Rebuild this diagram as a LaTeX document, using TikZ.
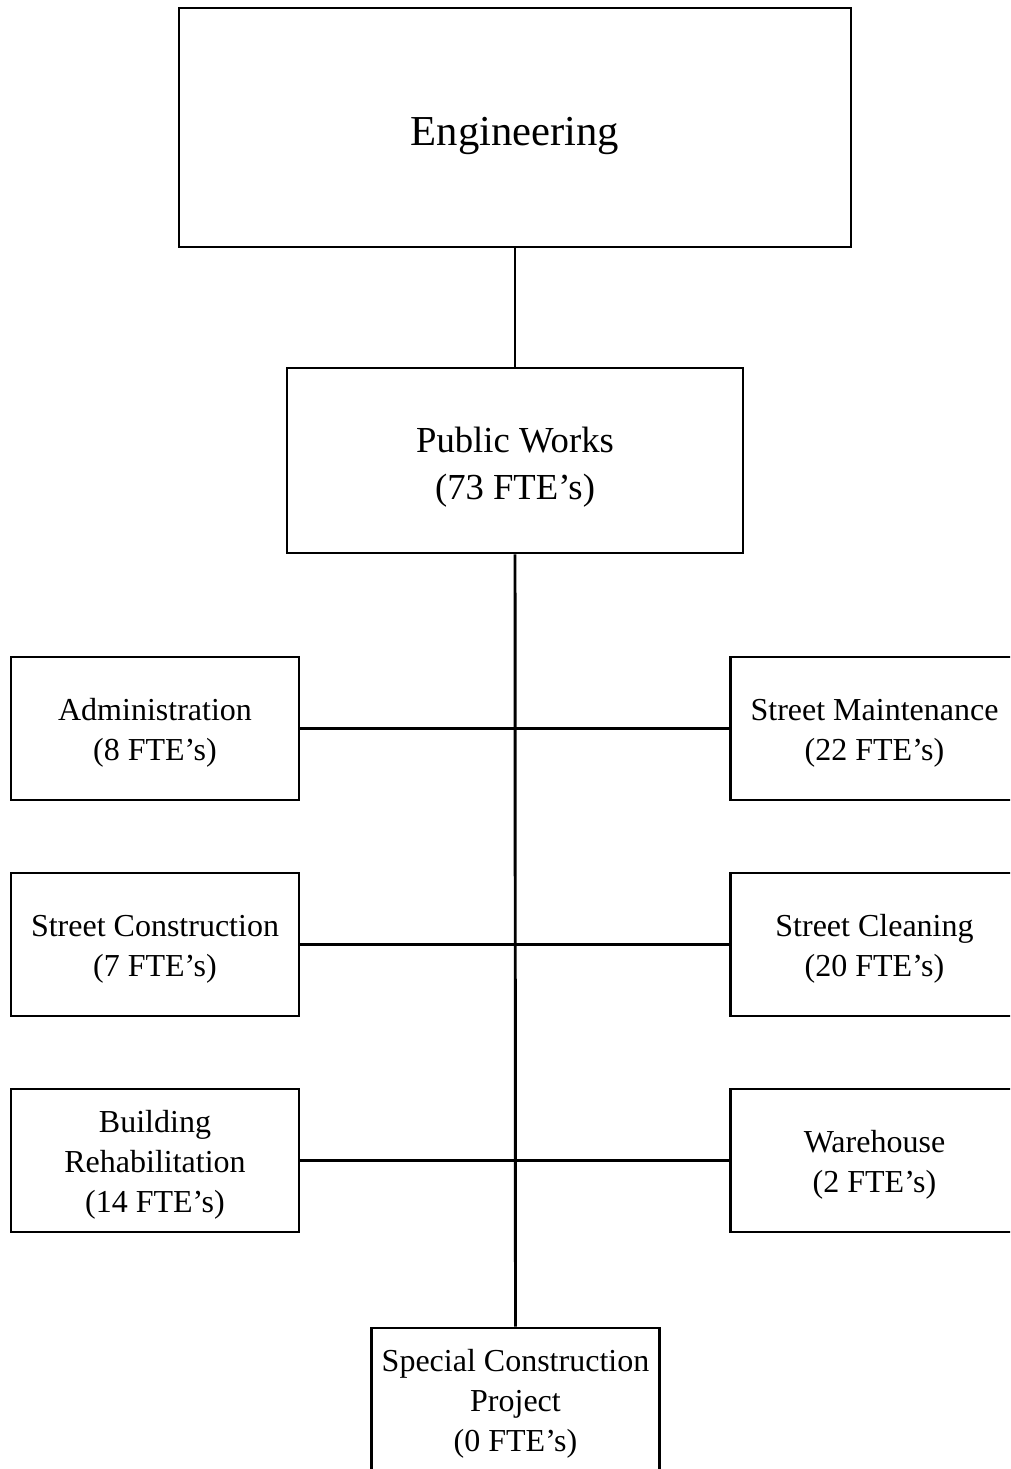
\documentclass[tikz,border=0pt]{standalone}
\usepackage{fontspec}
\setmainfont{Liberation Serif}
\newcommand\liftline[1]{\rule{0pt}{#1}}
\begin{document}
\begin{tikzpicture}[x=0.75pt,y=-0.75pt,
  box/.style={draw=black,line width=2.2pt,fill=white,inner sep=0pt,align=center,rectangle},
  bigbox/.style={box,minimum width=504pt,minimum height=179.25pt,font=\fontsize{32}{38}\selectfont},
  midbox/.style={box,minimum width=342pt,minimum height=138.75pt,font=\fontsize{27.5}{35.5}\selectfont},
  unitbox/.style={box,minimum width=216pt,minimum height=107.25pt,font=\fontsize{24}{30}\selectfont},
  link/.style={line width=2.2pt,draw=black}]
\useasboundingbox (0,0) rectangle (1010,1469);
\clip (0,0) rectangle (1010,1469);
\node[bigbox] (eng) at (515,127.5) {\liftline{34pt}Engineering};
\node[midbox] (pw) at (515,460.5) {\liftline{29.5pt}Public Works\\(73 FTE’s)};
\node[unitbox] (adm) at (155,728.5) {\liftline{23pt}Administration\\(8 FTE’s)};
\node[unitbox] (sc) at (155,944.5) {\liftline{23pt}Street Construction\\(7 FTE’s)};
\node[unitbox] (br) at (155,1160.5) {\liftline{23pt}Building\\Rehabilitation\\(14 FTE’s)};
\node[unitbox] (sm) at (874.5,728.5) {\liftline{23pt}Street Maintenance\\(22 FTE’s)};
\node[unitbox] (scl) at (874.5,944.5) {\liftline{23pt}Street Cleaning\\(20 FTE’s)};
\node[unitbox] (wh) at (874.5,1160.5) {\liftline{23pt}Warehouse\\(2 FTE’s)};
\node[unitbox] (spc) at (515.5,1399.5) {\liftline{23pt}Special Construction\\Project\\(0 FTE’s)};
\draw[link] (eng.south) -- (pw.north);
\draw[link] (pw.south) -- (spc.north);
\draw[link] (adm.east) -- (sm.west);
\draw[link] (sc.east) -- (scl.west);
\draw[link] (br.east) -- (wh.west);
\end{tikzpicture}
\end{document}
